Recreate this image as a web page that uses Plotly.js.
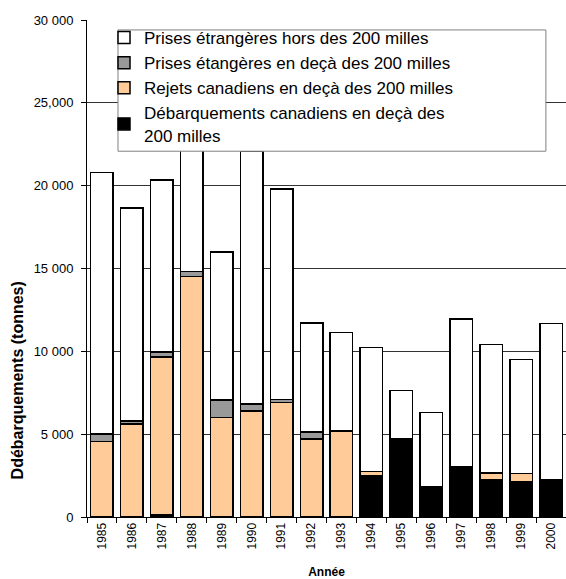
<!DOCTYPE html>
<html>
<head>
<meta charset="utf-8">
<script src="https://cdn.plot.ly/plotly-3.0.1.min.js"></script>
<style>
html,body{margin:0;padding:0;background:#fff;}
#chart{width:566px;height:579px;}
</style>
</head>
<body>
<div id="chart"></div>
<script>
const years = ['1985','1986','1987','1988','1989','1990','1991','1992','1993','1994','1995','1996','1997','1998','1999','2000'];
const debarquementsCanadiens = [0, 0, 150, 0, 0, 0, 0, 0, 0, 2500, 4500, 1840, 3030, 2270, 2120, 2150];
const rejetsCanadiens = [4550, 5600, 9500, 14510, 6000, 6400, 6900, 4700, 5200, 250, 100, 0, 0, 380, 510, 50];
const prisesEtrangeresEnDeca = [450, 200, 300, 300, 1070, 430, 180, 420, 0, 0, 100, 0, 0, 0, 0, 50];
const prisesEtrangeresHors = [15800, 12850, 10400, 9190, 8930, 15230, 12710, 6580, 5950, 7490, 2940, 4460, 8930, 7750, 6870, 9430];
const yTickVals = [0, 5000, 10000, 15000, 20000, 25000, 30000];
const yTickText = ['0', '5 000', '10 000', '15 000', '20 000', '25,000', '30 000'];

const FONT = 'Arial, "Liberation Sans", sans-serif';
const line = {color: '#000', width: 1.5};
const traces = [
  {name: 'Débarquements canadiens en deçà des<br>200 milles', y: debarquementsCanadiens, color: '#000000'},
  {name: 'Rejets canadiens en deçà des 200 milles', y: rejetsCanadiens, color: '#FFCC99'},
  {name: 'Prises étangères en deçà des 200 milles', y: prisesEtrangeresEnDeca, color: '#999999'},
  {name: 'Prises étrangères hors des 200 milles', y: prisesEtrangeresHors, color: '#FFFFFF'}
].map(t => ({
  type: 'bar', x: years, y: t.y, name: t.name,
  marker: {color: t.color, line: line},
  hoverinfo: 'x+y+name'
}));

const layout = {
  width: 566, height: 579,
  margin: {l: 87, r: 0, t: 20, b: 62},
  paper_bgcolor: '#fff', plot_bgcolor: '#fff',
  font: {family: FONT, size: 12, color: '#000'},
  barmode: 'stack', bargap: 0.25,
  showlegend: true,
  legend: {
    x: 0.0355, y: 1.0, xanchor: 'left', yanchor: 'top',
    bgcolor: 'rgba(0,0,0,0)', borderwidth: 0,
    traceorder: 'reversed',
    font: {family: FONT, size: 17, color: '#000'}
  },
  xaxis: {
    type: 'category', tickangle: -90, tickson: 'boundaries',
    ticks: 'outside', ticklen: 5, tickcolor: '#000',
    showline: true, linecolor: '#000', linewidth: 1,
    showgrid: false,
    tickfont: {family: FONT, size: 12},
    title: {text: '<b>Année</b>', font: {family: FONT, size: 12}, standoff: 19}
  },
  yaxis: {
    range: [0, 30000], tickvals: yTickVals, ticktext: yTickText,
    ticks: 'outside', ticklen: 5, tickcolor: '#000',
    ticklabelstandoff: 5,
    showline: true, linecolor: '#000', linewidth: 1,
    showgrid: true, gridcolor: '#333', gridwidth: 1,
    zeroline: false,
    tickfont: {family: FONT, size: 13}
  },
  shapes: [{
    type: 'rect', xref: 'paper', yref: 'paper',
    x0: 0.0647, x1: 0.958, y0: 0.736, y1: 0.98,
    line: {color: '#808080', width: 1}, fillcolor: '#fff', layer: 'above'
  }],
  annotations: [{
    text: '<b>Ddébarquements (tonnes)</b>', xref: 'paper', yref: 'paper',
    x: -0.146, y: 0.275, textangle: -90, showarrow: false,
    xanchor: 'center', yanchor: 'middle',
    font: {family: FONT, size: 16}
  }]
};

Plotly.newPlot('chart', traces, layout, {displayModeBar: false, staticPlot: true});
</script>
</body>
</html>
